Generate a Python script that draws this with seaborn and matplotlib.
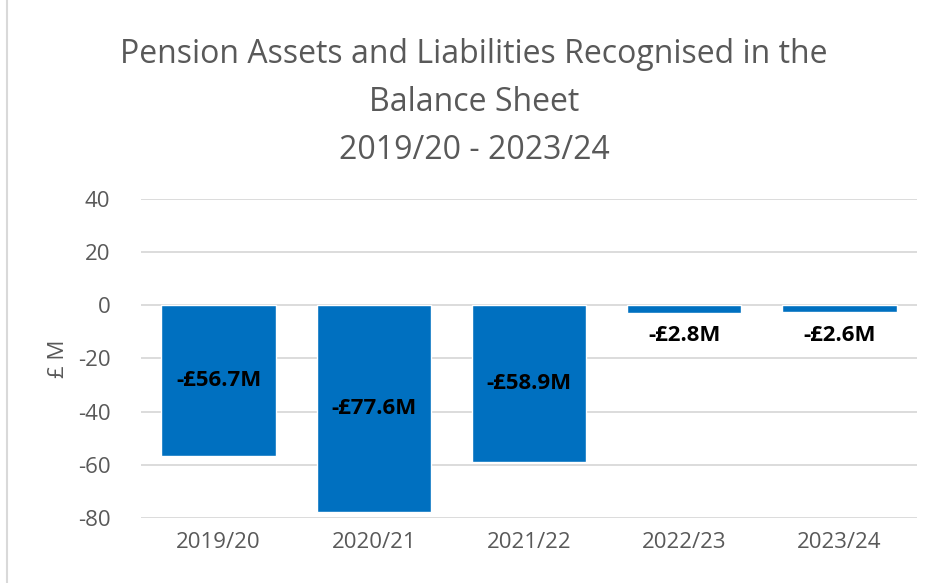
import matplotlib
matplotlib.use("Agg")
import matplotlib.pyplot as plt
import seaborn as sns
import pandas as pd
from matplotlib.patches import Rectangle

years = ["2019/20", "2020/21", "2021/22", "2022/23", "2023/24"]
values = [-56.7, -77.6, -58.9, -2.8, -2.6]
labels = ["-£56.7M", "-£77.6M", "-£58.9M", "-£2.8M", "-£2.6M"]
yticks = [40, 20, 0, -20, -40, -60, -80]

sns.set_theme(style="white")
plt.rcParams['font.family'] = ['Open Sans', 'DejaVu Sans']
plt.rcParams['axes.unicode_minus'] = False

gray = "#595959"
fig = plt.figure(figsize=(9.33, 5.83), dpi=100)
ax = fig.add_axes([0.151, 0.1115, 0.832, 0.5475])

df = pd.DataFrame({"year": years, "value": values})
sns.barplot(data=df, x="year", y="value", color="#0070C0", saturation=1,
            width=0.735, ax=ax, zorder=3)

ax.set_ylim(-80, 40)
ax.set_yticks(yticks)
ax.yaxis.grid(True, color="#D9D9D9", linewidth=1.3, zorder=0)
ax.set_axisbelow(True)
for s in ax.spines.values():
    s.set_visible(False)
ax.tick_params(axis='both', length=0, labelsize=16, colors=gray)
ax.tick_params(axis='y', pad=22)
ax.tick_params(axis='x', pad=10)
ax.set_xlabel("")
ax.set_ylabel("£ M", fontsize=16, color=gray, labelpad=6)

for i, (v, lab) in enumerate(zip(values, labels)):
    if abs(v) > 10:
        ax.text(i, v / 2, lab, ha="center", va="center", fontsize=16,
                fontweight="bold", color="black", zorder=4)
    else:
        ax.annotate(lab, (i, v), xytext=(0, -9), textcoords="offset points",
                    ha="center", va="top", fontsize=16, fontweight="bold",
                    color="black", zorder=4)

fig.text(0.508, 0.935, "Pension Assets and Liabilities Recognised in the\nBalance Sheet\n2019/20 - 2023/24",
         ha="center", va="top", fontsize=23, color=gray, linespacing=1.6)

fig.patches.append(Rectangle((0.007, -0.01), 1.0, 1.02, transform=fig.transFigure,
                             fill=False, edgecolor="#D9D9D9", linewidth=1.5))

fig.savefig("out.png", dpi=100)
